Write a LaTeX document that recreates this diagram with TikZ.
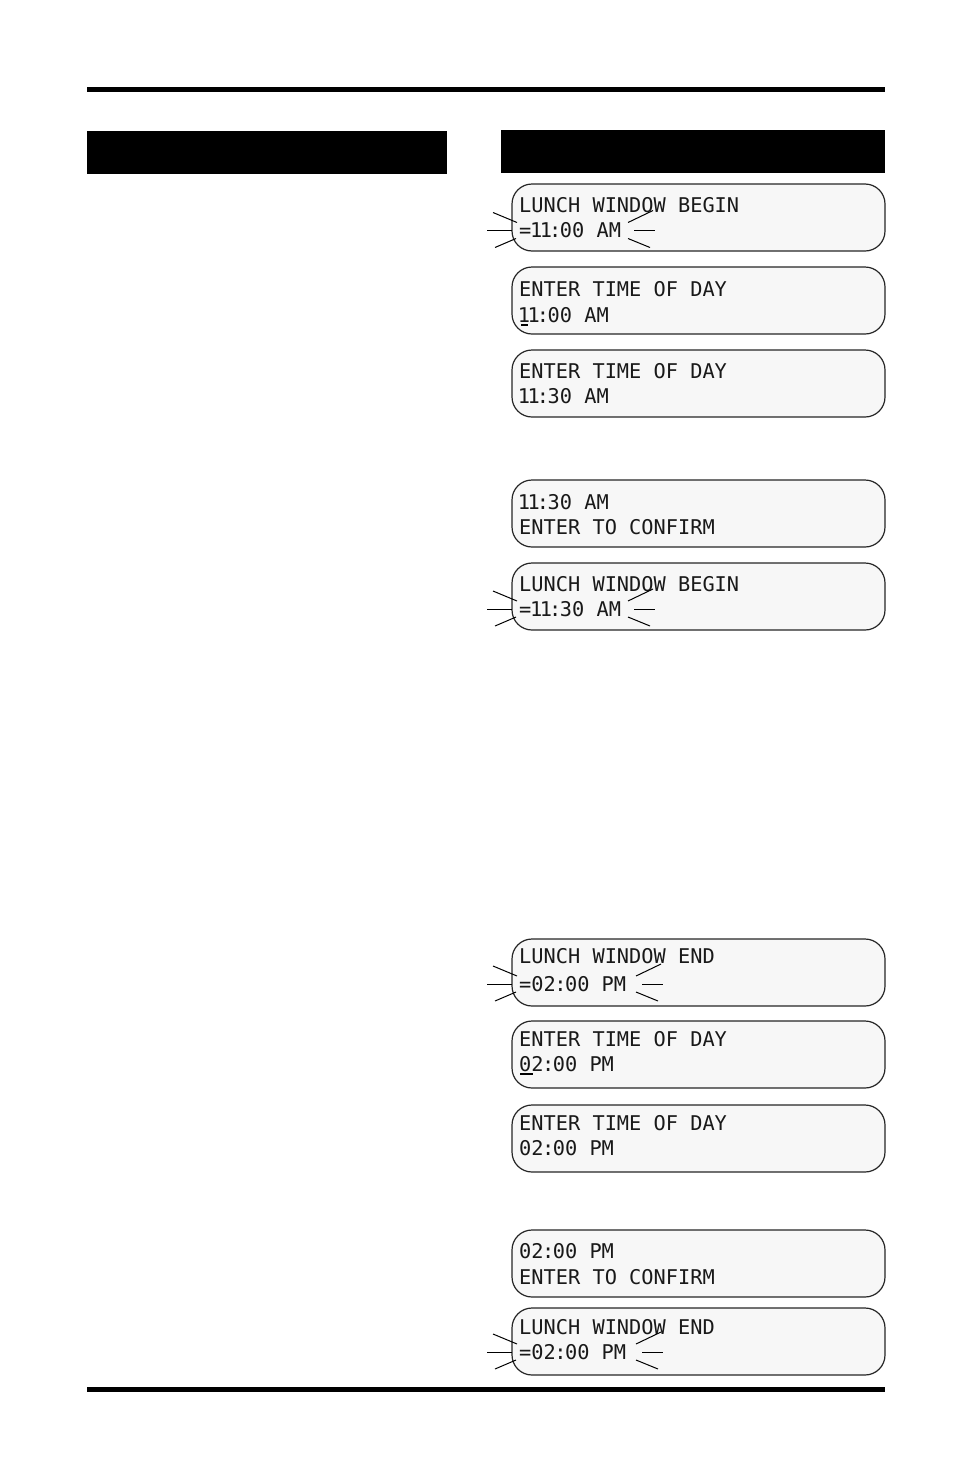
\documentclass[tikz,border=0pt]{standalone}
\usepackage{fontspec}
\newfontfamily\lcdfont{DejaVu Sans Mono}
\newcommand\lcdone{\kern-1.3pt 1\kern-1.3pt}
\newcommand\lcdcol{\kern-1.5pt:\kern-1.5pt}
\tikzset{
  lcd/.style={draw=black!85, line width=1.2pt, fill=black!3, rounded corners=20pt,
    minimum width=373pt, minimum height=67pt, inner sep=0pt},
  lcdtext/.style={anchor=base west, inner sep=0pt,
    font=\lcdfont\fontsize{20.3}{20}\selectfont, text=black!90},
  blink/.style={line width=1pt, draw=black},
  bar/.style={fill=black, draw=none},
  cursor/.style={line width=2pt, draw=black},
}
\newcommand\lcdbox[6]{%
  \node[lcd] (#1) at (698.5, #2+33.5) {};
  \node[lcdtext] (#1a) at (519, #3+7.3) {#5};
  \node[lcdtext] (#1b) at (519, #4+7.3) {#6};
}
\newcommand\blinkleft[1]{%
  \draw[blink] (493, #1-18) -- (517, #1-8);
  \draw[blink] (487, #1) -- (512, #1);
  \draw[blink] (495, #1+17) -- (516, #1+8);
}
\newcommand\blinkright[2]{%
  \draw[blink] (#1, #2-8) -- (#1+25, #2-20);
  \draw[blink] (#1+6, #2) -- (#1+27, #2);
  \draw[blink] (#1, #2+8) -- (#1+22, #2+17);
}
\begin{document}
\begin{tikzpicture}[x=1pt, y=-1pt]
  \useasboundingbox (0,0) rectangle (954,1475);
  % rules and header bars
  \fill[bar] (87,87) rectangle (885,92);
  \fill[bar] (87,1387) rectangle (885,1392);
  \node[bar, anchor=north west, minimum width=360pt, minimum height=43pt, inner sep=0pt] (hl) at (87,131) {};
  \node[bar, anchor=north west, minimum width=384pt, minimum height=43pt, inner sep=0pt] (hr) at (501,130) {};
  % LCD screens
  \lcdbox{b1}{184}{205}{230.5}{LUNCH WINDOW BEGIN}{=\lcdone\lcdone\lcdcol00 AM}
  \lcdbox{b2}{267}{289}{315}{ENTER TIME OF DAY}{\lcdone\lcdone\lcdcol00 AM}
  \lcdbox{b3}{350}{371}{396}{ENTER TIME OF DAY}{\lcdone\lcdone\lcdcol30 AM}
  \lcdbox{b4}{480}{502}{527}{\lcdone\lcdone\lcdcol30 AM}{ENTER TO CONFIRM}
  \lcdbox{b5}{563}{584}{609}{LUNCH WINDOW BEGIN}{=\lcdone\lcdone\lcdcol30 AM}
  \lcdbox{b6}{939}{956}{984}{LUNCH WINDOW END}{=02\lcdcol00 PM}
  \lcdbox{b7}{1021}{1039}{1064}{ENTER TIME OF DAY}{02\lcdcol00 PM}
  \lcdbox{b8}{1105}{1123}{1148}{ENTER TIME OF DAY}{02\lcdcol00 PM}
  \lcdbox{b9}{1230}{1251}{1277}{02\lcdcol00 PM}{ENTER TO CONFIRM}
  \lcdbox{b10}{1308}{1327}{1352}{LUNCH WINDOW END}{=02\lcdcol00 PM}
  % blinking marks
  \blinkleft{230.5}\blinkright{628}{230.5}
  \blinkleft{609}\blinkright{628}{609}
  \blinkleft{984}\blinkright{636}{984}
  \blinkleft{1352}\blinkright{636}{1352}
  % cursors
  \draw[cursor] (521,325) -- (528,325);
  \draw[cursor] (520,1074) -- (533,1074);
\end{tikzpicture}
\end{document}
